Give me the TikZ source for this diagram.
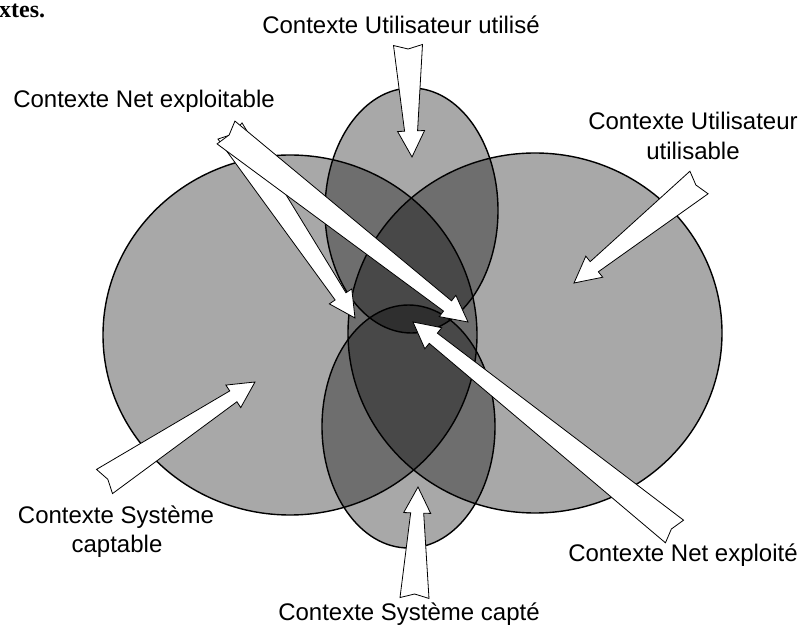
\documentclass[tikz,border=0pt]{standalone}
\usepackage{fontspec}
\setmainfont{Liberation Sans}
\newfontfamily\titlefont{Liberation Serif}
\usetikzlibrary{calc}
\tikzset{
  region/.style={fill=black, fill opacity=0.34},
  rim/.style={draw=black, line width=1.4pt},
  blockarrow/.style={fill=white, draw=black, line width=0.8pt, line join=miter},
  lbl/.style={font=\fontsize{24}{29}\selectfont, inner sep=0pt, anchor=base},
}
\newcommand\blockarr[2]{%
  \coordinate (#1-h) at ($(#2)!26pt!(#1)$);
  \draw[blockarrow] ($(#1)!14.5pt!90:(#2)$) -- ($(#1)!4pt!(#2)$) -- ($(#1)!14.5pt!-90:(#2)$)
    -- ($(#1-h)!6.5pt!-90:(#2)$) -- ($(#1-h)!13.5pt!-90:(#2)$) -- (#2)
    -- ($(#1-h)!13.5pt!90:(#2)$) -- ($(#1-h)!6.5pt!90:(#2)$) -- cycle;
}
\begin{document}
\begin{tikzpicture}[x=1pt,y=-1pt]
\fill[white] (0,0) rectangle (812,628);
\useasboundingbox (0,0) rectangle (812,628);

% regions
\fill[region] (290,335) ellipse [x radius=187pt, y radius=180pt];
\fill[region] (535,333) ellipse [x radius=187pt, y radius=180pt];
\fill[region] (411.5,210.5) ellipse [x radius=86.5pt, y radius=122.5pt];
\fill[region] (408.5,426.5) ellipse [x radius=86.5pt, y radius=121.5pt];
\draw[rim] (290,335) ellipse [x radius=187pt, y radius=180pt];
\draw[rim] (535,333) ellipse [x radius=187pt, y radius=180pt];
\draw[rim] (411.5,210.5) ellipse [x radius=86.5pt, y radius=122.5pt];
\draw[rim] (408.5,426.5) ellipse [x radius=86.5pt, y radius=121.5pt];

% arrow ends
\coordinate (aT) at (408,45);     \coordinate (aP) at (412,157);
\coordinate (bT) at (699,182.5);  \coordinate (bP) at (574,283);
\coordinate (cT) at (674.5,531.5);\coordinate (cP) at (413,322);
\coordinate (dT) at (230,131);    \coordinate (dP) at (355,318);
\coordinate (gT) at (226,132.5);  \coordinate (gP) at (468,322);
\coordinate (eT) at (414.5,598);  \coordinate (eP) at (418,487);
\coordinate (fT) at (104.5,481.5);\coordinate (fP) at (255,382);

\blockarr{aT}{aP}
\blockarr{bT}{bP}
\blockarr{cT}{cP}
\blockarr{dT}{dP}
\blockarr{gT}{gP}
\blockarr{eT}{eP}
\blockarr{fT}{fP}

% labels
\node[anchor=base west, inner sep=0pt, font=\titlefont\bfseries\fontsize{24}{29}\selectfont] (title) at (-1,18) {xtes.};
\node[lbl] (lblA) at (401,34) {Contexte Utilisateur utilisé};
\node[lbl] (lblD) at (144,108) {Contexte Net exploitable};
\node[lbl] (lblB1) at (693,130) {Contexte Utilisateur};
\node[lbl] (lblB2) at (693,160) {utilisable};
\node[lbl] (lblF1) at (116,523) {Contexte Système};
\node[lbl] (lblF2) at (117,552) {captable};
\node[lbl] (lblC) at (683,561) {Contexte Net exploité};
\node[lbl] (lblE) at (409,620) {Contexte Système capté};
\end{tikzpicture}
\end{document}
